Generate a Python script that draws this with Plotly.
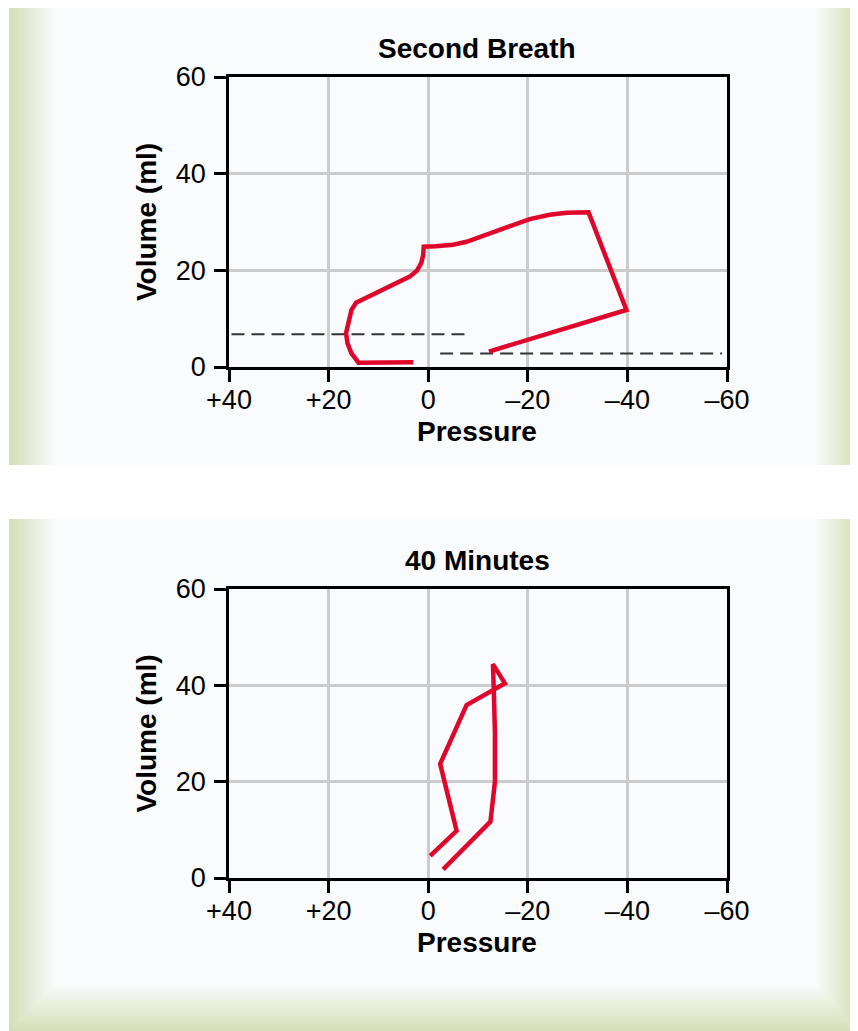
import plotly.graph_objects as go

# ---------------- data ----------------
panel_titles = ["Second Breath", "40 Minutes"]
x_title = "Pressure"
y_title = "Volume (ml)"
x_tick_vals = [40, 20, 0, -20, -40, -60]
x_tick_text = ["+40", "+20", "0", "\u201320", "\u201340", "\u201360"]
y_tick_vals = [0, 20, 40, 60]
y_tick_text = ["0", "20", "40", "60"]

# Second breath loop (pressure, volume)
breath2_pressure = [3.0, 8.0, 14.0, 15.4, 16.2, 16.5, 16.0, 15.4, 14.5,
                    3.7, 2.3, 1.4, 1.0, 0.9,
                    -1.5, -5.0, -7.7, -11.1, -14.4, -20.4, -24.4, -27.8, -32.2,
                    -39.8, -12.2]
breath2_volume = [1.0, 1.0, 0.9, 2.8, 4.9, 7.0, 9.7, 11.8, 13.3,
                  18.7, 19.9, 21.5, 23.2, 24.9,
                  25.0, 25.3, 25.9, 27.1, 28.4, 30.6, 31.5, 31.9, 32.0,
                  11.8, 3.2]

# dashed reference lines (second breath)
dash1_pressure = [39.5, -8.0]
dash1_volume = [6.8, 6.8]
dash2_pressure = [-2.4, -59.0]
dash2_volume = [2.8, 2.8]

# 40 minutes loop
min40_pressure = [-0.4, -5.7, -2.4, -7.7, -15.4, -13.0, -13.2, -13.4, -13.4, -12.5, -3.0]
min40_volume = [4.6, 9.8, 23.7, 35.9, 40.4, 44.4, 38.0, 30.0, 20.0, 11.7, 1.8]

# ---------------- layout helpers ----------------
W, H = 858, 1031
OFF = 8  # page body margin
RED = "#E0062B"
FONT = "Liberation Sans, Arial, Helvetica, sans-serif"


def px(x):
    return (x - OFF) / W


def py(y):
    return 1 - (y - OFF) / H


def lerp_color(c0, c1, t):
    return "rgb(%d,%d,%d)" % tuple(round(a + (b - a) * t) for a, b in zip(c0, c1))


EDGE = (212, 223, 182)
INNER = (250, 251, 252)

shapes = []


def panel(L, T, R, B, wl, wr, wb, n=30):
    for k in range(n + 1):
        t = k / n
        col = lerp_color(EDGE, INNER, t)
        shapes.append(dict(type="rect", xref="paper", yref="paper",
                           x0=px(L + t * wl), x1=px(R - t * wr),
                           y0=py(B - t * wb), y1=py(T),
                           fillcolor=col, line=dict(width=0), layer="below"))


panel(9, 8, 858, 465, 46, 42, 0)
panel(9, 519, 858, 1031, 46, 42, 45)

fig = go.Figure()

fig.add_trace(go.Scatter(x=dash1_pressure, y=dash1_volume, mode="lines",
                         line=dict(color="#333333", width=2, dash="13px,7px"),
                         xaxis="x", yaxis="y", showlegend=False))
fig.add_trace(go.Scatter(x=dash2_pressure, y=dash2_volume, mode="lines",
                         line=dict(color="#333333", width=2, dash="13px,7px"),
                         xaxis="x", yaxis="y", showlegend=False))
fig.add_trace(go.Scatter(x=breath2_pressure, y=breath2_volume, mode="lines",
                         line=dict(color=RED, width=4.5), xaxis="x", yaxis="y",
                         showlegend=False))
fig.add_trace(go.Scatter(x=min40_pressure, y=min40_volume, mode="lines",
                         line=dict(color=RED, width=4.5), xaxis="x2", yaxis="y2",
                         showlegend=False))

xdom = [px(229), px(727)]
TICKFONT = dict(family=FONT, size=27, color="black")
common_x = dict(range=[40, -60], tickvals=x_tick_vals, ticktext=x_tick_text,
                showgrid=True, gridcolor="#CCCCCC", gridwidth=2.5,
                showline=True, linecolor="black", linewidth=2.5, mirror=True,
                ticks="outside", ticklen=12, tickwidth=2.5, tickcolor="black",
                zeroline=False, tickfont=TICKFONT, ticklabelstandoff=-5,
                domain=xdom, fixedrange=True, automargin=False)
common_y = dict(range=[0, 60], tickvals=y_tick_vals, ticktext=y_tick_text,
                showgrid=True, gridcolor="#CCCCCC", gridwidth=2.5,
                showline=True, linecolor="black", linewidth=2.5, mirror=True,
                ticks="outside", ticklen=12, tickwidth=2.5, tickcolor="black",
                zeroline=False, tickfont=TICKFONT, ticklabelstandoff=3,
                fixedrange=True, automargin=False)

TITLEFONT = dict(family=FONT, size=28, color="black")
annotations = []
for title, ytop, ybot in [(panel_titles[0], 77, 367), (panel_titles[1], 589, 878)]:
    annotations.append(dict(text="<b>%s</b>" % title, x=px(477), y=py(ytop - 29),
                            xref="paper", yref="paper", showarrow=False,
                            font=TITLEFONT, xanchor="center", yanchor="middle"))
    annotations.append(dict(text="<b>%s</b>" % x_title, x=px(477), y=py(ybot + 64),
                            xref="paper", yref="paper", showarrow=False,
                            font=TITLEFONT, xanchor="center", yanchor="middle"))
    annotations.append(dict(text="<b>%s</b>" % y_title, x=px(146), y=py((ytop + ybot) / 2),
                            xref="paper", yref="paper", showarrow=False, textangle=-90,
                            font=TITLEFONT, xanchor="center", yanchor="middle"))

fig.update_layout(
    width=W, height=H,
    margin=dict(l=0, r=0, t=0, b=0, pad=0, autoexpand=False),
    paper_bgcolor="white",
    plot_bgcolor="rgba(0,0,0,0)",
    xaxis=dict(common_x, anchor="y"),
    yaxis=dict(common_y, domain=[py(367), py(77)], anchor="x"),
    xaxis2=dict(common_x, anchor="y2"),
    yaxis2=dict(common_y, domain=[py(878), py(589)], anchor="x2"),
    shapes=shapes,
    annotations=annotations,
    showlegend=False,
)

fig.write_html("out.html")
